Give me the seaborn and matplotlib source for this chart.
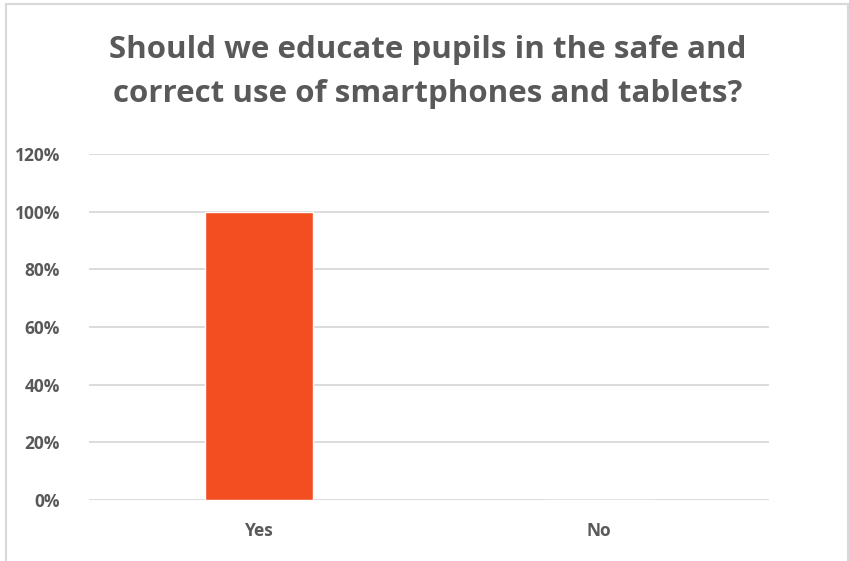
import matplotlib
matplotlib.use("Agg")
import matplotlib.pyplot as plt
from matplotlib.patches import Rectangle
from matplotlib.ticker import PercentFormatter
import seaborn as sns
import pandas as pd

categories = ["Yes", "No"]
shares = [1.0, 0.0]
y_ticks = [0.0, 0.2, 0.4, 0.6, 0.8, 1.0, 1.2]
title = "Should we educate pupils in the safe and\ncorrect use of smartphones and tablets?"

sns.set_theme(style="white")
plt.rcParams["font.family"] = ["Open Sans", "DejaVu Sans"]

W, H = 849, 561
fig = plt.figure(figsize=(W / 100, H / 100), dpi=100)
ax = fig.add_axes([89 / W, 1 - 500 / H, 680 / W, 346 / H])

df = pd.DataFrame({"answer": categories, "share": shares})
sns.barplot(data=df, x="answer", y="share", color="#F24E22", saturation=1,
            width=0.315, ax=ax, zorder=3)

text_col = "#595959"
ax.set_ylim(0, 1.2)
ax.set_xlim(-0.5, 1.5)
ax.set_yticks(y_ticks)
ax.yaxis.set_major_formatter(PercentFormatter(1.0, decimals=0))
ax.grid(axis="y", color="#D9D9D9", linewidth=1.3, zorder=0)
ax.grid(axis="x", visible=False)
for s in ax.spines.values():
    s.set_visible(False)
ax.tick_params(axis="both", length=0, labelsize=12.5, labelcolor=text_col)
ax.tick_params(axis="y", pad=21)
ax.tick_params(axis="x", pad=16)
for lab in ax.get_xticklabels() + ax.get_yticklabels():
    lab.set_fontweight("bold")
ax.set_xlabel("")
ax.set_ylabel("")

fig.text(428 / W, 1 - 72 / H, title, ha="center", va="center",
         fontsize=22.5, fontweight="bold", color=text_col, linespacing=1.62)

# chart frame
fig.patches.append(Rectangle((6 / W, -0.05), 842 / W, 1.05 - 4 / H,
                             transform=fig.transFigure, fill=False,
                             edgecolor="#D9D9D9", linewidth=1.5))

fig.savefig("out.png", dpi=100, facecolor="white")
